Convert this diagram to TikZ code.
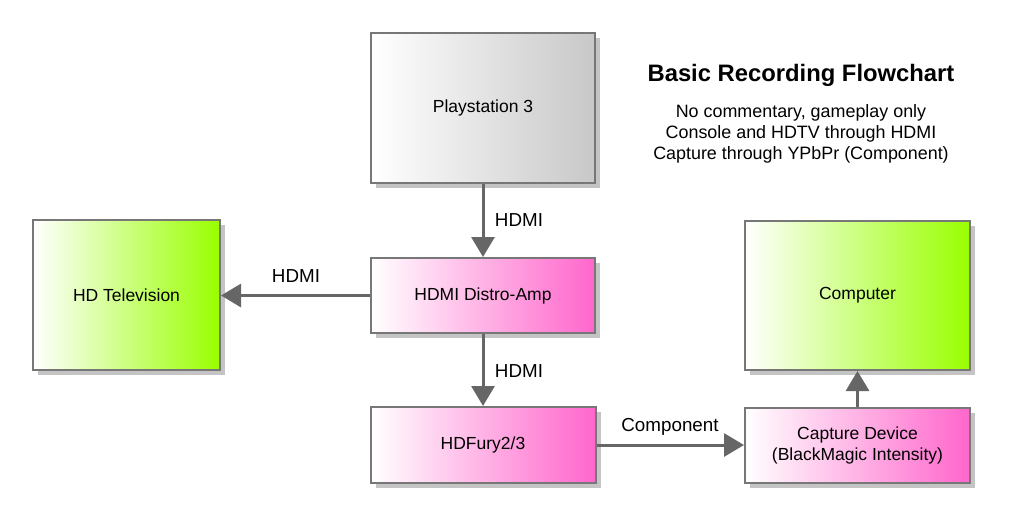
\documentclass[tikz,border=0pt]{standalone}
\usepackage{fontspec}
\setmainfont{Liberation Sans}
\usetikzlibrary{arrows.meta,shadows}
\definecolor{edgegray}{HTML}{777777}
\definecolor{arrowgray}{HTML}{666666}
\definecolor{shadowgray}{HTML}{C4C4C4}
\definecolor{psgray}{HTML}{C8C8C8}
\definecolor{limegreen}{HTML}{99FF00}
\definecolor{hotpink}{HTML}{FF66CC}

\begin{document}
\begin{tikzpicture}[x=1pt,y=-1pt,
    box/.style={draw=edgegray, line width=2pt, inner sep=0pt,
        font=\fontsize{17.5}{21}\selectfont,
        drop shadow={shadow xshift=5pt, shadow yshift=-5pt, fill=shadowgray, opacity=1}},
    greybox/.style={box, left color=white, right color=psgray},
    greenbox/.style={box, left color=white, right color=limegreen},
    pinkbox/.style={box, left color=white, right color=hotpink},
    flow/.style={draw=arrowgray, line width=3pt,
        -{Triangle[length=20pt,width=23pt]}},
    flowlabel/.style={font=\fontsize{18.8}{22}\selectfont, inner sep=0pt}
    ]
    \useasboundingbox (0,0) rectangle (1010,515);

    \node[greybox, minimum width=224pt, minimum height=150pt] (ps3) at (483,108) {Playstation 3};
    \node[greenbox, minimum width=187pt, minimum height=150pt] (tv) at (126.5,295) {HD Television};
    \node[pinkbox, minimum width=224pt, minimum height=75pt] (amp) at (483,295.5) {HDMI Distro-Amp};
    \node[pinkbox, minimum width=225pt, minimum height=76pt] (fury) at (483,445) {HDFury2/3};
    \node[pinkbox, minimum width=225pt, minimum height=75pt, align=center] (capture) at (857.5,445.5)
        {Capture Device\\(BlackMagic Intensity)};
    \node[greenbox, minimum width=225pt, minimum height=149pt] (pc) at (857.5,295.5) {Computer};

 \draw[flow] (ps3) -- (amp);
 \draw[flow] (amp.west) -- (amp.west -| tv.east);
 \draw[flow] (amp) -- (fury);
 \draw[flow] (fury.east) -- (fury.east -| capture.west);
 \draw[flow] (capture) -- (pc);

    \node[flowlabel] (l1) at (519,220) {HDMI};
    \node[flowlabel] (l2) at (296,276) {HDMI};
    \node[flowlabel] (l3) at (519,371) {HDMI};
    \node[flowlabel] (l4) at (670,427) {Component};

    % title and notes
    \node[anchor=base, inner sep=0pt, font=\fontsize{23.8}{28}\bfseries] (title) at (801,81) {Basic Recording Flowchart};
    \node[anchor=north, inner sep=0pt, align=center, font=\fontsize{17.9}{21}\selectfont] (notes) at (801,104)
        {No commentary, gameplay only\\Console and HDTV through HDMI\\Capture through YPbPr (Component)};
\end{tikzpicture}
\end{document}
